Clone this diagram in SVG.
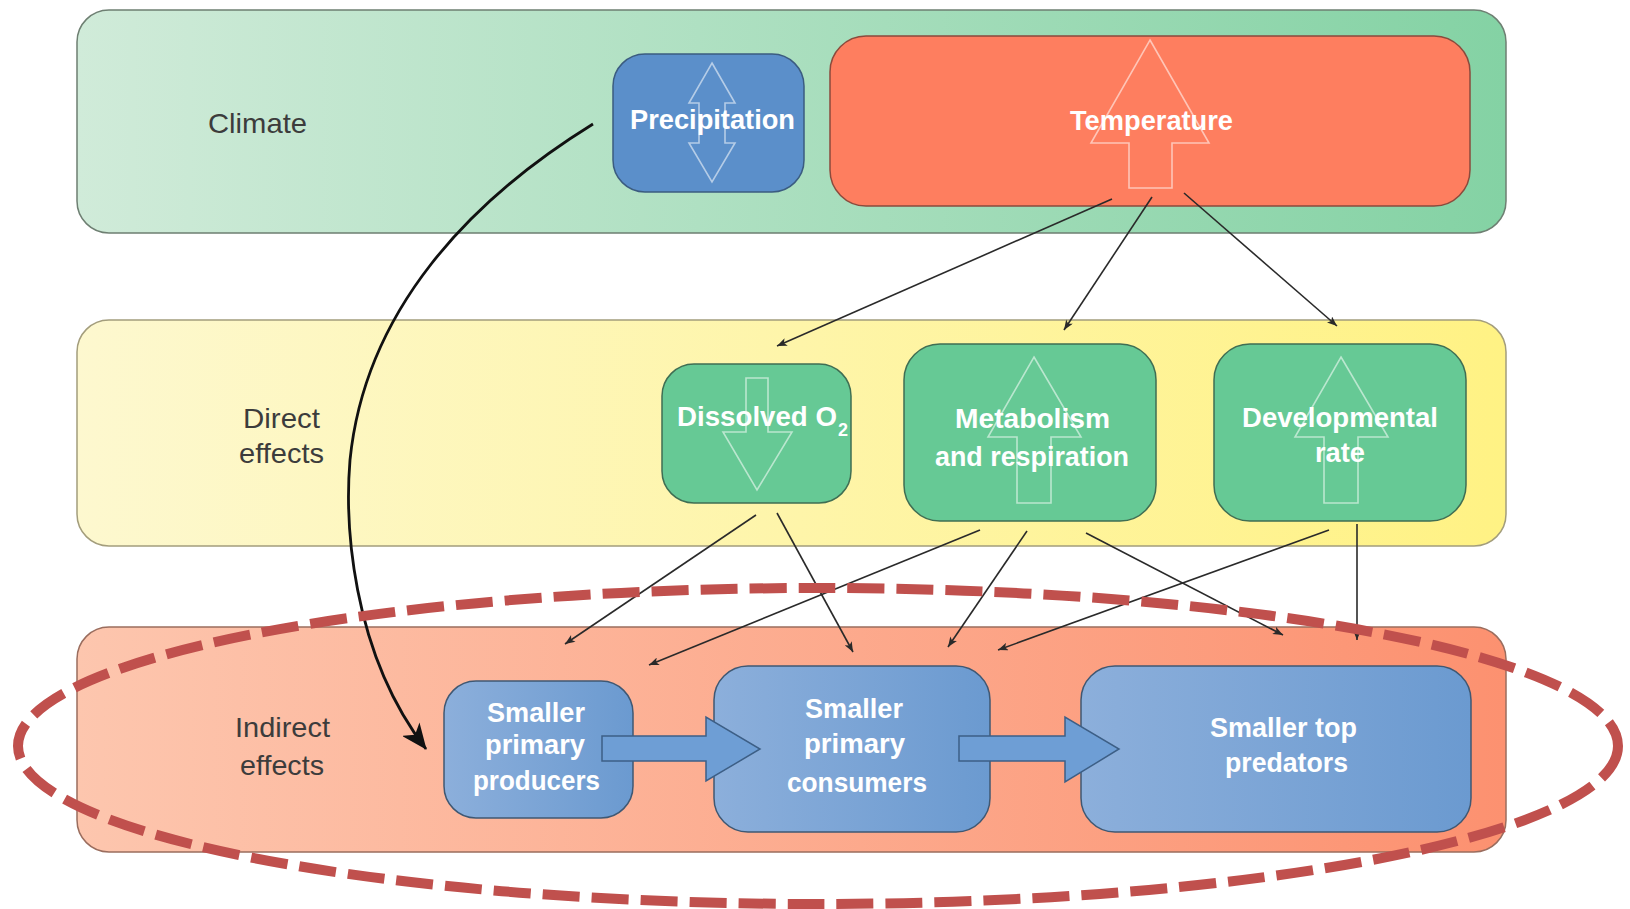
<svg xmlns="http://www.w3.org/2000/svg" width="1630" height="909" viewBox="0 0 1630 909">
<defs>
<linearGradient id="gClimate" x1="0" y1="0" x2="1" y2="0"><stop offset="0" stop-color="#d0ebd9"/><stop offset="1" stop-color="#84d2a4"/></linearGradient>
<linearGradient id="gDirect" x1="0" y1="0" x2="1" y2="0"><stop offset="0" stop-color="#fdf8cf"/><stop offset="1" stop-color="#fff284"/></linearGradient>
<linearGradient id="gIndirect" x1="0" y1="0" x2="1" y2="0"><stop offset="0" stop-color="#fdc6ae"/><stop offset="1" stop-color="#fc9170"/></linearGradient>
<linearGradient id="gBlue" x1="0" y1="0" x2="1" y2="0"><stop offset="0" stop-color="#8cafdb"/><stop offset="1" stop-color="#6b9ad0"/></linearGradient>
<marker id="ah" viewBox="0 0 10 8" refX="10" refY="4" markerWidth="11" markerHeight="8" markerUnits="userSpaceOnUse" orient="auto"><path d="M0,0 L10,4 L0,8 L2.5,4 z" fill="#2a2a2a"/></marker>
<marker id="ahBig" viewBox="0 0 26 22" refX="25" refY="11" markerWidth="26" markerHeight="22" markerUnits="userSpaceOnUse" orient="auto"><path d="M0,0 L26,11 L0,22 L7,11 z" fill="#111"/></marker>
</defs>
<style>
.band{stroke-width:1.5}
.gray{font-family:"Liberation Sans",Arial,sans-serif;font-size:28px;fill:#3c3c3c}
.lbl{font-family:"Liberation Sans",Arial,sans-serif;font-weight:bold;font-size:28px;fill:#ffffff}
.out{fill:none;stroke:#ffffff;stroke-opacity:0.55;stroke-width:1.6;stroke-linejoin:miter}
.green{fill:#66c995;stroke:#3f6e53;stroke-width:1.5}
.blue{fill:url(#gBlue);stroke:#3f5873;stroke-width:1.5}
.blk{fill:#6e9ed5;stroke:#3d5f86;stroke-width:1.5}
.conn{fill:none;stroke:#2a2a2a;stroke-width:1.6}
</style>

<g id="band-climate">
<rect class="band" x="77" y="10" width="1429" height="223" rx="32" fill="url(#gClimate)" stroke="#6e7f72"/>
<text class="gray" x="208" y="133" textLength="99" lengthAdjust="spacingAndGlyphs">Climate</text>
</g>
<g id="band-direct">
<rect class="band" x="77" y="320" width="1429" height="226" rx="32" fill="url(#gDirect)" stroke="#a39d7c"/>
<text class="gray" x="243" y="428" textLength="77" lengthAdjust="spacingAndGlyphs">Direct</text>
<text class="gray" x="239" y="463" textLength="85" lengthAdjust="spacingAndGlyphs">effects</text>
</g>
<g id="band-indirect">
<rect class="band" x="77" y="627" width="1429" height="225" rx="32" fill="url(#gIndirect)" stroke="#9a6d5e"/>
<text class="gray" x="235" y="737" textLength="95" lengthAdjust="spacingAndGlyphs">Indirect</text>
<text class="gray" x="240" y="775" textLength="84" lengthAdjust="spacingAndGlyphs">effects</text>
</g>

<g id="precipitation">
<rect x="613" y="54" width="191" height="138" rx="32" fill="#5b8fca" stroke="#3b5c80" stroke-width="1.5"/>
<path class="out" d="M712,63 L735,103 L725,103 L725,143 L735,143 L712,182 L689,143 L699,143 L699,103 L689,103 Z"/>
<text class="lbl" x="630" y="129" textLength="165" lengthAdjust="spacingAndGlyphs">Precipitation</text>
</g>
<g id="temperature">
<rect x="830" y="36" width="640" height="170" rx="36" fill="#fe7e5f" stroke="#8b4a3c" stroke-width="1.5"/>
<path class="out" d="M1150,40 L1209,143 L1172,143 L1172,188 L1129,188 L1129,143 L1091,143 Z"/>
<text class="lbl" x="1070" y="130" textLength="163" lengthAdjust="spacingAndGlyphs">Temperature</text>
</g>

<g id="dissolved-o2">
<rect class="green" x="662" y="364" width="189" height="139" rx="32"/>
<path class="out" d="M746,378 L768,378 L768,432 L792,432 L757,490 L723,432 L746,432 Z"/>
<text class="lbl" x="677" y="426" textLength="160" lengthAdjust="spacingAndGlyphs">Dissolved O</text>
<text class="lbl" x="838" y="436" style="font-size:18px">2</text>
</g>
<g id="metabolism">
<rect class="green" x="904" y="344" width="252" height="177" rx="36"/>
<path class="out" d="M1034,357 L1081,437 L1051,437 L1051,503 L1017,503 L1017,437 L988,437 Z"/>
<text class="lbl" x="955" y="428" textLength="155" lengthAdjust="spacingAndGlyphs">Metabolism</text>
<text class="lbl" x="935" y="466" textLength="194" lengthAdjust="spacingAndGlyphs">and respiration</text>
</g>
<g id="developmental">
<rect class="green" x="1214" y="344" width="252" height="177" rx="36"/>
<path class="out" d="M1341,357 L1388,437 L1358,437 L1358,503 L1324,503 L1324,437 L1295,437 Z"/>
<text class="lbl" x="1242" y="427" textLength="196" lengthAdjust="spacingAndGlyphs">Developmental</text>
<text class="lbl" x="1315" y="462" textLength="50" lengthAdjust="spacingAndGlyphs">rate</text>
</g>

<g id="producers">
<rect class="blue" x="444" y="681" width="189" height="137" rx="32"/>
<text class="lbl" x="487" y="722" textLength="98" lengthAdjust="spacingAndGlyphs">Smaller</text>
<text class="lbl" x="485" y="754" textLength="100" lengthAdjust="spacingAndGlyphs">primary</text>
<text class="lbl" x="473" y="790" textLength="127" lengthAdjust="spacingAndGlyphs">producers</text>
</g>
<g id="consumers">
<rect class="blue" x="714" y="666" width="276" height="166" rx="34"/>
<text class="lbl" x="805" y="718" textLength="98" lengthAdjust="spacingAndGlyphs">Smaller</text>
<text class="lbl" x="804" y="753" textLength="101" lengthAdjust="spacingAndGlyphs">primary</text>
<text class="lbl" x="787" y="792" textLength="140" lengthAdjust="spacingAndGlyphs">consumers</text>
</g>
<g id="predators">
<rect class="blue" x="1081" y="666" width="390" height="166" rx="34"/>
<text class="lbl" x="1210" y="737" textLength="147" lengthAdjust="spacingAndGlyphs">Smaller top</text>
<text class="lbl" x="1225" y="772" textLength="123" lengthAdjust="spacingAndGlyphs">predators</text>
</g>

<g id="connectors">
<path class="blk" d="M602,736 L706,736 L706,717 L760,749 L706,781 L706,761 L602,761 Z"/>
<path class="blk" d="M959,736 L1065,736 L1065,717 L1119,749 L1065,782 L1065,761 L959,761 Z"/>
<line class="conn" x1="1112" y1="199" x2="777" y2="346" marker-end="url(#ah)"/>
<line class="conn" x1="1152" y1="197" x2="1064" y2="330" marker-end="url(#ah)"/>
<line class="conn" x1="1184" y1="193" x2="1337" y2="326" marker-end="url(#ah)"/>
<line class="conn" x1="756" y1="515" x2="565" y2="644" marker-end="url(#ah)"/>
<line class="conn" x1="777" y1="513" x2="853" y2="652" marker-end="url(#ah)"/>
<line class="conn" x1="980" y1="530" x2="649" y2="665" marker-end="url(#ah)"/>
<line class="conn" x1="1027" y1="531" x2="948" y2="647" marker-end="url(#ah)"/>
<line class="conn" x1="1086" y1="533" x2="1283" y2="635" marker-end="url(#ah)"/>
<line class="conn" x1="1329" y1="530" x2="998" y2="650" marker-end="url(#ah)"/>
<line class="conn" x1="1357" y1="524" x2="1357" y2="640" marker-end="url(#ah)"/>
<path d="M593,124 C470,200 365,310 350,460 C345,520 350,650 426,749" fill="none" stroke="#111" stroke-width="2.8" marker-end="url(#ahBig)"/>
</g>

<g id="highlight">
<ellipse cx="818" cy="746" rx="800" ry="158" fill="none" stroke="#c0504d" stroke-width="10" stroke-dasharray="37 12"/>
</g>
</svg>
